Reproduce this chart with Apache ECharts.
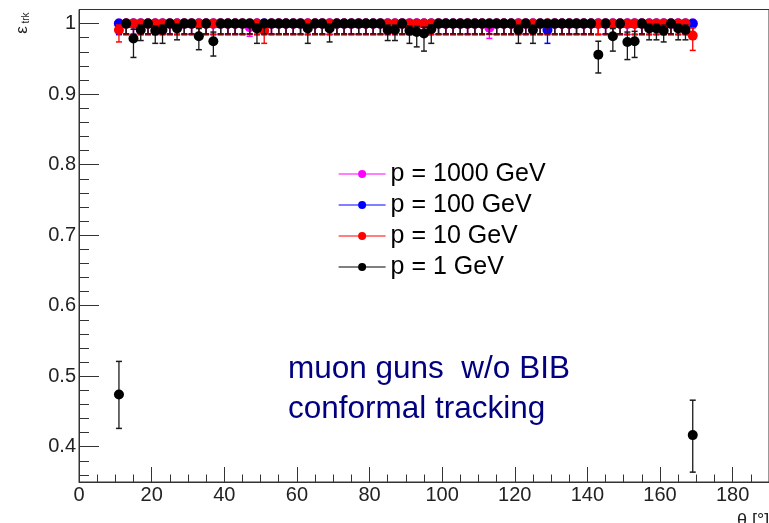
<!DOCTYPE html>
<html><head><meta charset="utf-8">
<script src="https://cdn.jsdelivr.net/npm/echarts@6/dist/echarts.min.js"></script>
<style>html,body{margin:0;padding:0;background:#fff;}#c{width:769px;height:523px;}</style>
</head><body><div id="c"></div>
<script>
// bin centres (theta, degrees)
const theta = [
 11,13,15,17,19,21,23,25,27,29,
 31,33,35,37,39,41,43,45,47,49,
 51,53,55,57,59,61,63,65,67,69,
 71,73,75,77,79,81,83,85,87,89,
 91,93,95,97,99,101,103,105,107,109,
 111,113,115,117,119,121,123,125,127,129,
 131,133,135,137,139,141,143,145,147,149,
 151,153,155,157,159,161,163,165,167,169];

// p = 1 GeV
const eff1 = [
 0.474,1,0.979,0.991,1,0.990,0.991,1,0.993,1,
 1,0.982,1,0.975,1,1,1,1,1,0.993,
 1,1,1,1,1,1,0.993,1,1,0.993,
 1,1,1,1,1,1,1,0.991,0.991,1,
 0.990,0.988,0.986,0.992,1,1,1,1,1,1,
 1,1,1,1,1,0.991,1,0.991,1,1,
 1,1,1,1,1,1,0.956,1,0.982,1,
 0.974,0.975,1,0.993,0.993,0.990,1,0.993,0.991,0.4165];
const lo1 = [
 0.426,0.9855,0.952,0.976,0.9855,0.972,0.972,0.9855,0.977,0.9855,
 0.9855,0.963,0.9855,0.954,0.9855,0.9855,0.9855,0.9855,0.9855,0.972,
 0.9855,0.9855,0.9855,0.9855,0.9855,0.9855,0.972,0.9855,0.9855,0.974,
 0.9855,0.9855,0.9855,0.9855,0.9855,0.9855,0.9855,0.976,0.976,0.9855,
 0.972,0.967,0.961,0.972,0.9855,0.9855,0.9855,0.9855,0.9855,0.9855,
 0.9855,0.9855,0.9855,0.9855,0.9855,0.972,0.9855,0.972,0.9855,0.9855,
 0.9855,0.9855,0.9855,0.9855,0.9855,0.9855,0.930,0.9855,0.961,0.9855,
 0.949,0.952,0.9855,0.977,0.977,0.974,0.9855,0.977,0.977,0.364];
const hi1 = [
 0.521,1,0.992,0.998,1,0.997,0.998,1,0.999,1,
 1,0.993,1,0.988,1,1,1,1,1,0.999,
 1,1,1,1,1,1,0.999,1,1,0.999,
 1,1,1,1,1,1,1,0.998,0.998,1,
 0.997,0.996,0.995,0.998,1,1,1,1,1,1,
 1,1,1,1,1,0.998,1,0.998,1,1,
 1,1,1,1,1,1,0.975,1,0.993,1,
 0.988,0.989,1,0.999,0.999,0.998,1,0.999,0.998,0.466];

// p = 10 GeV
const eff10 = [
 0.991,1,1,1,1,1,1,1,1,1,
 1,1,1,1,1,1,1,1,1,1,
 0.990,1,1,1,1,1,1,1,1,1,
 1,1,1,1,1,1,1,1,1,1,
 1,1,1,1,1,1,1,1,1,1,
 1,1,1,1,1,1,1,1,1,1,
 1,1,1,1,1,1,1,1,1,1,
 1,1,1,1,1,1,1,1,1,0.983];
const lo10 = [
 0.974,0.9845,0.9845,0.9845,0.9845,0.9845,0.9845,0.9845,0.9845,0.9845,
 0.9845,0.9845,0.9845,0.9845,0.9845,0.9845,0.9845,0.9845,0.9845,0.9845,
 0.972,0.9845,0.9845,0.9845,0.9845,0.9845,0.9845,0.9845,0.9845,0.9845,
 0.9845,0.9845,0.9845,0.9845,0.9845,0.9845,0.9845,0.9845,0.9845,0.9845,
 0.9845,0.9845,0.9845,0.9845,0.9845,0.9845,0.9845,0.9845,0.9845,0.9845,
 0.9845,0.9845,0.9845,0.9845,0.9845,0.9845,0.9845,0.9845,0.9845,0.9845,
 0.9845,0.9845,0.9845,0.9845,0.9845,0.9845,0.9845,0.9845,0.9845,0.9845,
 0.9845,0.9845,0.9845,0.9845,0.9845,0.9845,0.9845,0.9845,0.9845,0.962];
const hi10 = [
 0.998,1,1,1,1,1,1,1,1,1,
 1,1,1,1,1,1,1,1,1,1,
 0.997,1,1,1,1,1,1,1,1,1,
 1,1,1,1,1,1,1,1,1,1,
 1,1,1,1,1,1,1,1,1,1,
 1,1,1,1,1,1,1,1,1,1,
 1,1,1,1,1,1,1,1,1,1,
 1,1,1,1,1,1,1,1,1,0.994];

// p = 100 GeV
const eff100 = [
 1,1,1,1,1,1,1,1,1,1,
 1,1,1,1,1,1,1,1,1,1,
 1,1,1,1,1,1,1,1,1,1,
 1,1,1,1,1,1,1,1,1,1,
 1,1,1,1,1,1,1,1,1,1,
 1,1,1,1,1,1,1,1,1,0.991,
 1,1,1,1,1,1,1,1,1,1,
 1,1,1,1,1,1,1,1,1,1];
const lo100 = [
 0.985,0.985,0.985,0.985,0.985,0.985,0.985,0.985,0.985,0.985,
 0.985,0.985,0.985,0.985,0.985,0.985,0.985,0.985,0.985,0.985,
 0.985,0.985,0.985,0.985,0.985,0.985,0.985,0.985,0.985,0.985,
 0.985,0.985,0.985,0.985,0.985,0.985,0.985,0.985,0.985,0.985,
 0.985,0.985,0.985,0.985,0.985,0.985,0.985,0.985,0.985,0.985,
 0.985,0.985,0.985,0.985,0.985,0.985,0.985,0.985,0.985,0.972,
 0.985,0.985,0.985,0.985,0.985,0.985,0.985,0.985,0.985,0.985,
 0.985,0.985,0.985,0.985,0.985,0.985,0.985,0.985,0.985,0.985];
const hi100 = [
 1,1,1,1,1,1,1,1,1,1,
 1,1,1,1,1,1,1,1,1,1,
 1,1,1,1,1,1,1,1,1,1,
 1,1,1,1,1,1,1,1,1,1,
 1,1,1,1,1,1,1,1,1,1,
 1,1,1,1,1,1,1,1,1,0.998,
 1,1,1,1,1,1,1,1,1,1,
 1,1,1,1,1,1,1,1,1,1];

// p = 1000 GeV
const eff1000 = [
 1,1,1,1,1,1,1,1,1,1,
 1,1,1,1,1,1,1,1,0.995,1,
 1,1,1,1,1,1,1,1,1,1,
 1,1,1,1,1,1,1,1,1,1,
 1,1,1,1,1,1,1,1,1,1,
 1,0.994,1,1,1,1,1,1,1,1,
 1,1,1,1,1,1,1,1,1,1,
 1,1,1,1,1,1,1,1,1,1];
const lo1000 = [
 0.984,0.984,0.984,0.984,0.984,0.984,0.984,0.984,0.984,0.984,
 0.984,0.984,0.984,0.984,0.984,0.984,0.984,0.984,0.982,0.984,
 0.984,0.984,0.984,0.984,0.984,0.984,0.984,0.984,0.984,0.984,
 0.984,0.984,0.984,0.984,0.984,0.984,0.984,0.984,0.984,0.984,
 0.984,0.984,0.984,0.984,0.984,0.984,0.984,0.984,0.984,0.984,
 0.984,0.979,0.984,0.984,0.984,0.984,0.984,0.984,0.984,0.984,
 0.984,0.984,0.984,0.984,0.984,0.984,0.984,0.984,0.984,0.984,
 0.984,0.984,0.984,0.984,0.984,0.984,0.984,0.984,0.984,0.984];
const hi1000 = [
 1,1,1,1,1,1,1,1,1,1,
 1,1,1,1,1,1,1,1,0.999,1,
 1,1,1,1,1,1,1,1,1,1,
 1,1,1,1,1,1,1,1,1,1,
 1,1,1,1,1,1,1,1,1,1,
 1,0.999,1,1,1,1,1,1,1,1,
 1,1,1,1,1,1,1,1,1,1,
 1,1,1,1,1,1,1,1,1,1];

const names = ['p = 1000 GeV','p = 100 GeV','p = 10 GeV','p = 1 GeV'];
const colors = ['#ff00ff','#0000ff','#ff0000','#000000'];
const errColors = ['#ff00ff','#0000ff','#ff0000','#1a1a1a'];
const effs = [eff1000, eff100, eff10, eff1];
const los = [lo1000, lo100, lo10, lo1];
const his = [hi1000, hi100, hi10, hi1];

const FONT = 'Liberation Sans';

function errSeries(k, z){
  const col = errColors[k];
  return {
    type:'custom', name:'err'+k, z:z, silent:true, animation:false, clip:false,
    data: theta.map((t,i)=>[t, los[k][i], his[k][i]]),
    encode:{x:0, y:[1,2]},
    renderItem: function(params, api){
      const x = api.value(0), l = api.value(1), h = api.value(2);
      const p1 = api.coord([x,l]), p2 = api.coord([x,h]);
      const cw = 3;
      return {type:'group', children:[
        {type:'line', shape:{x1:p1[0],y1:p1[1],x2:p2[0],y2:p2[1]}, style:{stroke:col,lineWidth:1.3}},
        {type:'line', shape:{x1:p1[0]-cw,y1:p1[1],x2:p1[0]+cw,y2:p1[1]}, style:{stroke:col,lineWidth:1.5}},
        {type:'line', shape:{x1:p2[0]-cw,y1:p2[1],x2:p2[0]+cw,y2:p2[1]}, style:{stroke:col,lineWidth:1.5}}
      ]};
    }
  };
}
function markSeries(k, z){
  return {
    type:'line', name:names[k], z:z, silent:true, animation:false,
    data: theta.map((t,i)=>[t, effs[k][i]]),
    symbol:'circle', symbolSize:10, showSymbol:true, showAllSymbol:true,
    itemStyle:{color:colors[k], borderWidth:0},
    lineStyle:{color:colors[k], width:0, opacity:0},
    emphasis:{disabled:true}
  };
}
const series = [];
for (let k=0;k<4;k++){ series.push(errSeries(k, 10+2*k)); series.push(markSeries(k, 11+2*k)); }

const axisCol = '#333';
const option = {
  backgroundColor:'#fff',
  animation:false,
  grid:{left:79, top:9.5, width:708, height:472.5, show:true, borderColor:axisCol, borderWidth:1, backgroundColor:'transparent', containLabel:false},
  xAxis:{type:'value', min:0, max:190, interval:20,
    axisLine:{show:true, onZero:false, lineStyle:{color:axisCol,width:1}},
    axisTick:{show:true, inside:true, length:15, lineStyle:{color:axisCol,width:1}},
    minorTick:{show:true, splitNumber:4, length:7.5, lineStyle:{color:axisCol,width:1}},
    axisLabel:{fontSize:20, color:'#222', margin:3, fontFamily:FONT, showMaxLabel:false},
    splitLine:{show:false}, minorSplitLine:{show:false}},
  yAxis:{type:'value', min:0.35, max:1.02, splitNumber:5,
    axisLine:{show:true, onZero:false, lineStyle:{color:axisCol,width:1}},
    axisTick:{show:true, inside:true, length:20, lineStyle:{color:axisCol,width:1}},
    minorTick:{show:true, splitNumber:5, length:10, lineStyle:{color:axisCol,width:1}},
    axisLabel:{fontSize:20, color:'#222', margin:3, fontFamily:FONT, showMinLabel:false, showMaxLabel:false},
    splitLine:{show:false}, minorSplitLine:{show:false}},
  legend:{orient:'vertical', left:338, top:161.5, padding:0, itemWidth:47, itemHeight:10, itemGap:6,
    selectedMode:false,
    data: names.map((n,k)=>({name:n, lineStyle:{color:colors[k], width:1.2, opacity:1}})),
    textStyle:{fontSize:25, fontFamily:FONT, color:'#000', lineHeight:24},
    lineStyle:{opacity:1, width:1.2}},
  graphic:[
    {type:'text', left:288, top:353, style:{text:'muon guns  w/o BIB', fill:'#000080', font:'31.5px "Liberation Sans"'}},
    {type:'text', left:288, top:393, style:{text:'conformal tracking', fill:'#000080', font:'31.5px "Liberation Sans"'}},
    {type:'text', x:22, y:30, rotation:Math.PI/2, style:{text:'\u03b5', fill:'#222', font:'17px "Liberation Sans"', textAlign:'center', textVerticalAlign:'middle'}},
    {type:'text', x:26, y:18, rotation:Math.PI/2, style:{text:'trk', fill:'#222', font:'10px "Liberation Sans"', textAlign:'center', textVerticalAlign:'middle'}},
    {type:'text', x:737, y:512, style:{text:'\u03b8 [\u00b0]', fill:'#222', font:'18px "Liberation Sans"', textAlign:'left', textVerticalAlign:'top'}}
  ],
  series: series
};
const chart = echarts.init(document.getElementById('c'), null, {renderer:'canvas'});
chart.setOption(option);
</script></body></html>
